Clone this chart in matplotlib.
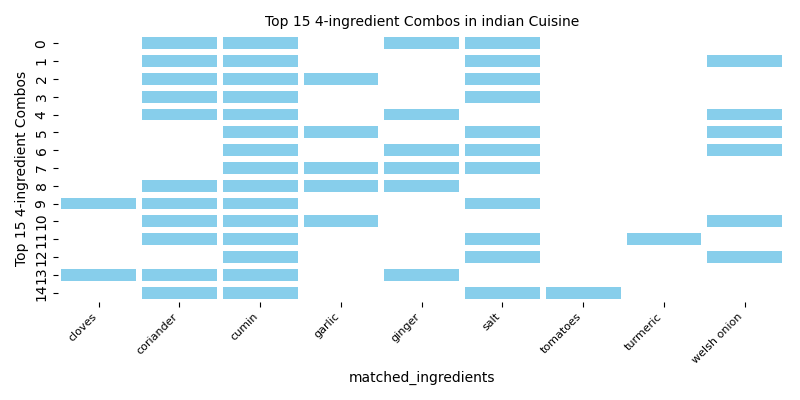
import numpy as np
import pandas as pd
import matplotlib.pyplot as plt
import seaborn as sns
from matplotlib.colors import ListedColormap

ingredients = [
    "cloves", "coriander", "cumin", "garlic", "ginger",
    "salt", "tomatoes", "turmeric", "welsh onion"
]

combos = [
    ["coriander", "cumin", "ginger", "salt"],
    ["coriander", "cumin", "salt", "welsh onion"],
    ["coriander", "cumin", "garlic", "salt"],
    ["coriander", "cumin", "salt"],
    ["coriander", "cumin", "ginger", "welsh onion"],
    ["cumin", "garlic", "salt", "welsh onion"],
    ["cumin", "ginger", "salt", "welsh onion"],
    ["cumin", "garlic", "ginger", "salt"],
    ["coriander", "cumin", "garlic", "ginger"],
    ["cloves", "coriander", "cumin", "salt"],
    ["coriander", "cumin", "garlic", "welsh onion"],
    ["coriander", "cumin", "salt", "turmeric"],
    ["cumin", "salt", "welsh onion"],
    ["cloves", "coriander", "cumin", "ginger"],
    ["coriander", "cumin", "salt", "tomatoes"],
]

matrix = pd.DataFrame(
    [[1 if ing in c else 0 for ing in ingredients] for c in combos],
    columns=ingredients
)
matrix.columns.name = "matched_ingredients"

plt.figure(figsize=(8, 4), dpi=100)

ax = sns.heatmap(
    matrix,
    cmap=ListedColormap(["white", "skyblue"]),
    cbar=False,
    linewidths=4.3,
    linecolor="white"
)

plt.title("Top 15 4-ingredient Combos in indian Cuisine", fontsize=10)
plt.ylabel("Top 15 4-ingredient Combos")
plt.xlabel("matched_ingredients")
plt.xticks(rotation=45, ha="right", fontsize=8)

plt.tight_layout()
plt.savefig("out.png", dpi=100)
plt.close()
